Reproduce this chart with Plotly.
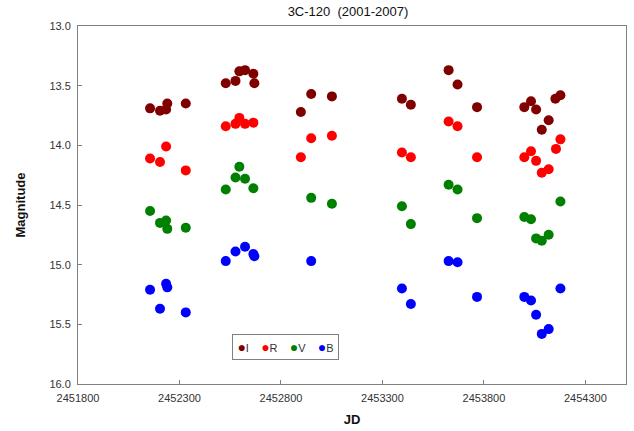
import plotly.graph_objects as go

# ---- data (JD, magnitude) ----
I_jd = [2452155, 2452204, 2452234, 2452240, 2452331,
        2452528, 2452576, 2452595, 2452623, 2452664, 2452669,
        2452898, 2452949, 2453051,
        2453396, 2453440,
        2453626, 2453670, 2453766,
        2453999, 2454032, 2454057, 2454085, 2454119, 2454152, 2454177]
I_mag = [13.69, 13.71, 13.70, 13.65, 13.65,
         13.48, 13.46, 13.38, 13.37, 13.40, 13.48,
         13.72, 13.57, 13.59,
         13.61, 13.66,
         13.37, 13.49, 13.68,
         13.68, 13.63, 13.70, 13.87, 13.79, 13.61, 13.58]

R_jd = [2452155, 2452204, 2452234, 2452331,
        2452528, 2452576, 2452595, 2452623, 2452664,
        2452898, 2452949, 2453051,
        2453396, 2453440,
        2453626, 2453670, 2453766,
        2453999, 2454032, 2454057, 2454085, 2454119, 2454155, 2454177]
R_mag = [14.11, 14.14, 14.01, 14.21,
         13.84, 13.82, 13.77, 13.82, 13.81,
         14.10, 13.94, 13.92,
         14.06, 14.10,
         13.80, 13.84, 14.10,
         14.10, 14.05, 14.13, 14.23, 14.20, 14.03, 13.95]

V_jd = [2452155, 2452204, 2452234, 2452240, 2452331,
        2452528, 2452576, 2452595, 2452623, 2452664,
        2452949, 2453051,
        2453396, 2453440,
        2453626, 2453670, 2453766,
        2453999, 2454032, 2454057, 2454085, 2454119, 2454177]
V_mag = [14.55, 14.65, 14.63, 14.70, 14.69,
         14.37, 14.27, 14.18, 14.28, 14.36,
         14.44, 14.49,
         14.51, 14.66,
         14.33, 14.37, 14.61,
         14.60, 14.62, 14.78, 14.80, 14.75, 14.47]

B_jd = [2452155, 2452204, 2452234, 2452240, 2452331,
        2452528, 2452576, 2452623, 2452664, 2452669,
        2452949,
        2453396, 2453440,
        2453626, 2453670, 2453766,
        2453999, 2454032, 2454057, 2454085, 2454119, 2454177]
B_mag = [15.21, 15.37, 15.16, 15.19, 15.40,
         14.97, 14.89, 14.85, 14.91, 14.93,
         14.97,
         15.20, 15.33,
         14.97, 14.98, 15.27,
         15.27, 15.30, 15.42, 15.58, 15.54, 15.20]

x_ticks = [2451800, 2452300, 2452800, 2453300, 2453800, 2454300]
y_ticks = [13.0, 13.5, 14.0, 14.5, 15.0, 15.5, 16.0]

series = [("I", I_jd, I_mag, "#800000"),
          ("R", R_jd, R_mag, "#ff0000"),
          ("V", V_jd, V_mag, "#008000"),
          ("B", B_jd, B_mag, "#0000ff")]

FONT = "Liberation Sans, Arial, sans-serif"

fig = go.Figure()
for name, xs, ys, col in series:
    fig.add_trace(go.Scatter(x=xs, y=ys, mode="markers", name=name,
                             marker=dict(color=col, size=10, line=dict(width=0)),
                             showlegend=False))

# compact legend box (Excel style) as real text
legend_html = "&nbsp;&nbsp;&nbsp;&nbsp;".join(
    f'<span style="color:{col};font-size:14px">●</span>{name}' for name, _, _, col in series)
fig.add_annotation(text=legend_html, xref="paper", yref="paper",
                   x=0.281, y=0.1397, xanchor="left", yanchor="top", showarrow=False,
                   font=dict(family=FONT, size=11, color="#333333"),
                   bordercolor="#808080", borderwidth=1, borderpad=4, bgcolor="white",
                   width=97, height=16, align="center", valign="middle")

axis_font = dict(family=FONT, size=11, color="#333333")
fig.update_layout(
    width=634, height=431,
    margin=dict(l=78, r=8, t=26, b=47, autoexpand=False),
    paper_bgcolor="white", plot_bgcolor="white",
    title=dict(text="3C-120&nbsp;&nbsp;(2001-2007)", x=348 / 634, xanchor="center",
               y=1 - 11 / 431, yanchor="middle", automargin=False,
               font=dict(family=FONT, size=13, color="#111111")),
    font=dict(family=FONT),
    showlegend=False,
)
fig.update_xaxes(range=[2451800, 2454500], tickvals=x_ticks,
                 ticktext=[str(v) for v in x_ticks], automargin=False,
                 showgrid=False, zeroline=False, showline=True, linecolor="#808080", linewidth=1,
                 mirror=True, ticks="inside", ticklen=4, tickcolor="#808080",
                 tickfont=axis_font, ticklabelstandoff=4,
                 title=dict(text="<b>JD</b>", standoff=11,
                            font=dict(family=FONT, size=13, color="#111111")))
fig.update_yaxes(range=[16.0, 13.0], tickvals=y_ticks, tickformat=".1f", automargin=False,
                 showgrid=False, zeroline=False, showline=True, linecolor="#808080", linewidth=1,
                 mirror=True, ticks="inside", ticklen=4, tickcolor="#808080",
                 tickfont=axis_font, ticklabelstandoff=4,
                 title=dict(text="<b>Magnitude</b>", standoff=20,
                            font=dict(family=FONT, size=13, color="#111111")))

fig.write_html("out.html", config={"displayModeBar": False},
               post_script="document.body.style.margin='0';")
